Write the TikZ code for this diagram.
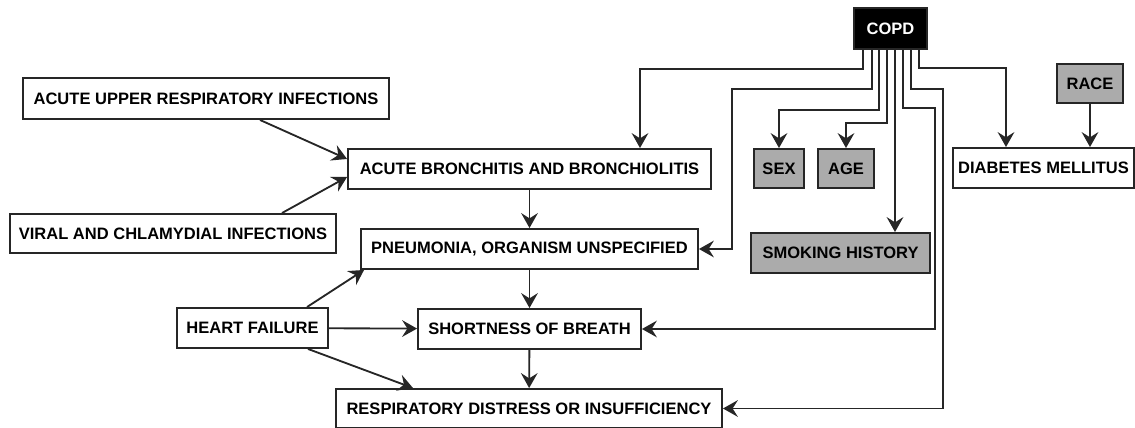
\documentclass[tikz,border=0pt]{standalone}
\usepackage{fontspec}
\setmainfont{Liberation Sans}
\usepackage{tikz}
\usetikzlibrary{positioning}
\usetikzlibrary{arrows.meta}
\tikzset{
    box/.style = {rectangle, line width=1.1pt, draw=black!85, fill=white, inner sep=0pt, align=center, font=\fontsize{9.4}{11}\selectfont\bfseries},
    boxg/.style = {box, fill=black!33},
    boxk/.style = {box, fill=black, text=white},
    edgen/.style = {-{Stealth[length=8.5pt,width=9.5pt,inset=3pt]}, line width=1.05pt, draw=black!85},
}

\begin{document}
\begin{tikzpicture}[x=0.02cm,y=-0.02cm]
\useasboundingbox (0,0) rectangle (1135,428);
\node[boxk, minimum width=1.46cm, minimum height=0.82cm] at (890.5, 28.5) (copd) {COPD};
\node[box, minimum width=7.32cm, minimum height=0.82cm] at (206, 98.5) (aupper) {ACUTE UPPER RESPIRATORY INFECTIONS};
\node[box, minimum width=6.52cm, minimum height=0.78cm] at (173, 233.5) (viral) {VIRAL AND CHLAMYDIAL INFECTIONS};
\node[box, minimum width=7.26cm, minimum height=0.80cm] at (529.5, 169) (bronch) {ACUTE BRONCHITIS AND BRONCHIOLITIS};
\node[box, minimum width=6.74cm, minimum height=0.80cm] at (529.5, 249) (pneu) {PNEUMONIA, ORGANISM UNSPECIFIED};
\node[box, minimum width=4.46cm, minimum height=0.80cm] at (529.5, 329) (sob) {SHORTNESS OF BREATH};
\node[box, minimum width=7.72cm, minimum height=0.78cm] at (529, 408.5) (resp) {RESPIRATORY DISTRESS OR INSUFFICIENCY};
\node[box, minimum width=3.02cm, minimum height=0.80cm] at (252.5, 328) (heart) {HEART FAILURE};
\node[boxg, minimum width=1.00cm, minimum height=0.78cm] at (779, 168.5) (sex) {SEX};
\node[boxg, minimum width=1.12cm, minimum height=0.78cm] at (846, 168.5) (age) {AGE};
\node[boxg, minimum width=3.58cm, minimum height=0.80cm] at (840.5, 253) (smoke) {SMOKING HISTORY};
\node[box, minimum width=3.62cm, minimum height=0.80cm] at (1043.5, 168) (diab) {DIABETES MELLITUS};
\node[boxg, minimum width=1.32cm, minimum height=0.78cm] at (1090, 83.5) (race) {RACE};
%
\draw[edgen] (aupper.south -| 260,0) -- ([yshift=0.2cm]bronch.west);
\draw[edgen] (viral.north -| 282,0) -- ([yshift=-0.16cm]bronch.west);
\draw[edgen] (bronch) -- (pneu);
\draw[edgen] (pneu) -- (sob);
\draw[edgen] (sob) -- (resp);
\draw[edgen] (heart.north -| 307,0) -- ([xshift=0.08cm]pneu.south west);
\draw[edgen] (heart) -- (sob);
\draw[edgen] (heart.south -| 308,0) -- (resp.north -| 413,0);
\draw[edgen] (race) -- (race.south |- diab.north);
%
\draw[edgen] (copd.south -| 863,0) |- (640,69) -- (bronch.north -| 640,0);
\draw[edgen] (copd.south -| 872,0) |- (732,89) |- (pneu.east);
\draw[edgen] (copd.south -| 879,0) |- (779,110) -- (sex.north);
\draw[edgen] (copd.south -| 887,0) |- (846,123) -- (age.north);
\draw[edgen] (copd.south -| 895,0) -- (smoke.north -| 895,0);
\draw[edgen] (copd.south -| 903,0) |- (935,108) |- (sob.east);
\draw[edgen] (copd.south -| 911,0) |- (943,89) |- (resp.east);
\draw[edgen] (copd.south -| 919,0) |- (1006,68) -- (diab.north -| 1006,0);
\end{tikzpicture}
\end{document}
